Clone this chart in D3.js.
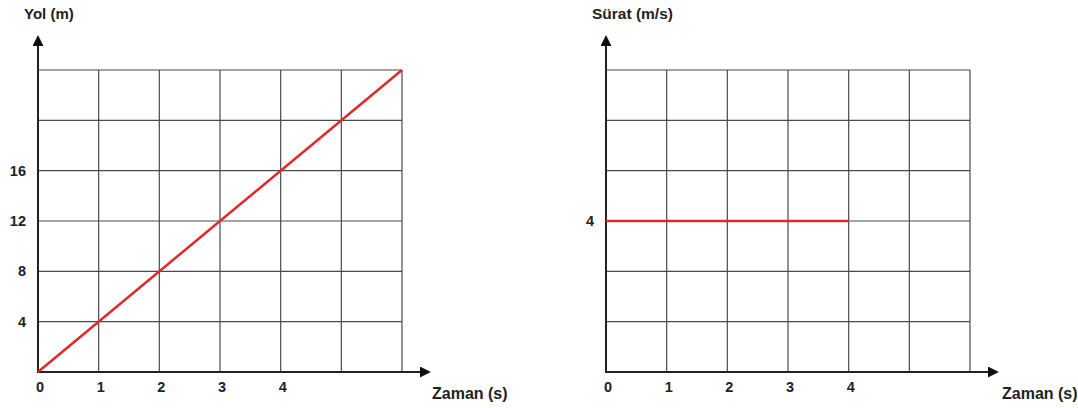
<!DOCTYPE html>
<html><head><meta charset="utf-8">
<script src="https://cdn.jsdelivr.net/npm/d3@7"></script>
<style>
body{margin:0;background:#fff;}
text{font-family:"Liberation Sans",Arial,sans-serif;font-weight:bold;fill:#222;}
</style></head>
<body><svg id="c" width="1078" height="408"></svg>
<script>
// Left chart: Yol (m) vs Zaman (s)
const leftXTicks = [0,1,2,3,4];
const leftYTicks = [4,8,12,16];
const leftGridX = [0,1,2,3,4,5,6];
const leftGridY = [0,4,8,12,16,20,24];
const leftLine = [[0,0],[6,24]];
// Right chart: Sürat (m/s) vs Zaman (s)
const rightXTicks = [0,1,2,3,4];
const rightYTicks = [4];
const rightGridX = [0,1,2,3,4,5,6];
const rightGridY = [0,4/3,8/3,4,16/3,20/3,8];
const rightLine = [[0,4],[4,4]];

const svg = d3.select("#c");
const defs = svg.append("defs");
defs.append("marker").attr("id","arr").attr("viewBox","0 0 10 10").attr("refX",1).attr("refY",5)
  .attr("markerWidth",11).attr("markerHeight",11).attr("markerUnits","userSpaceOnUse").attr("orient","auto")
  .append("path").attr("d","M0,0 L10,5 L0,10 Z").attr("fill","#111");

function chart(o){
  const x = d3.scaleLinear().domain([0,6]).range([o.x0,o.x1]);
  const y = d3.scaleLinear().domain([0,o.ymax]).range([372,70]);
  const g = svg.append("g");
  g.selectAll(".gx").data(o.gridX.slice(1)).join("line")
    .attr("x1",d=>x(d)).attr("x2",d=>x(d)).attr("y1",y(0)).attr("y2",y(o.ymax))
    .attr("stroke","#4a4a4a").attr("stroke-width",1.2);
  g.selectAll(".gy").data(o.gridY.slice(1)).join("line")
    .attr("x1",x(0)).attr("x2",x(6)).attr("y1",d=>y(d)).attr("y2",d=>y(d))
    .attr("stroke","#4a4a4a").attr("stroke-width",1.2);
  g.append("line").attr("x1",x(0)).attr("y1",y(0)).attr("x2",o.arrowX-10).attr("y2",y(0))
    .attr("stroke","#222").attr("stroke-width",2).attr("marker-end","url(#arr)");
  g.append("line").attr("x1",x(0)).attr("y1",y(0)+1).attr("x2",x(0)).attr("y2",45)
    .attr("stroke","#222").attr("stroke-width",2).attr("marker-end","url(#arr)");
  g.append("path").datum(o.line).attr("d",d3.line().x(d=>x(d[0])).y(d=>y(d[1])))
    .attr("stroke","#e02828").attr("stroke-width",2.5).attr("fill","none");
  g.selectAll(".tx").data(o.xTicks).join("text")
    .attr("x",d=>x(d)+2).attr("y",392).attr("text-anchor","middle").attr("font-size",14.5).text(d=>d);
  g.selectAll(".ty").data(o.yTicks).join("text")
    .attr("x",x(0)-12).attr("y",d=>y(d)+5).attr("text-anchor","end").attr("font-size",14.5).text(d=>d);
  g.append("text").attr("x",o.xlabX).attr("y",399).attr("font-size",16).text("Zaman (s)");
  g.append("text").attr("x",o.ylabX).attr("y",19).attr("font-size",o.ylabSize).text(o.ylab);
}
chart({x0:38,x1:402,arrowX:431,ymax:24,gridX:leftGridX,gridY:leftGridY,line:leftLine,
  xTicks:leftXTicks,yTicks:leftYTicks,xlabX:432,ylabX:24,ylab:"Yol (m)",ylabSize:15});
chart({x0:606,x1:970,arrowX:999,ymax:8,gridX:rightGridX,gridY:rightGridY,line:rightLine,
  xTicks:rightXTicks,yTicks:rightYTicks,xlabX:1002,ylabX:592,ylab:"Sürat (m/s)",ylabSize:15.5});
</script></body></html>
